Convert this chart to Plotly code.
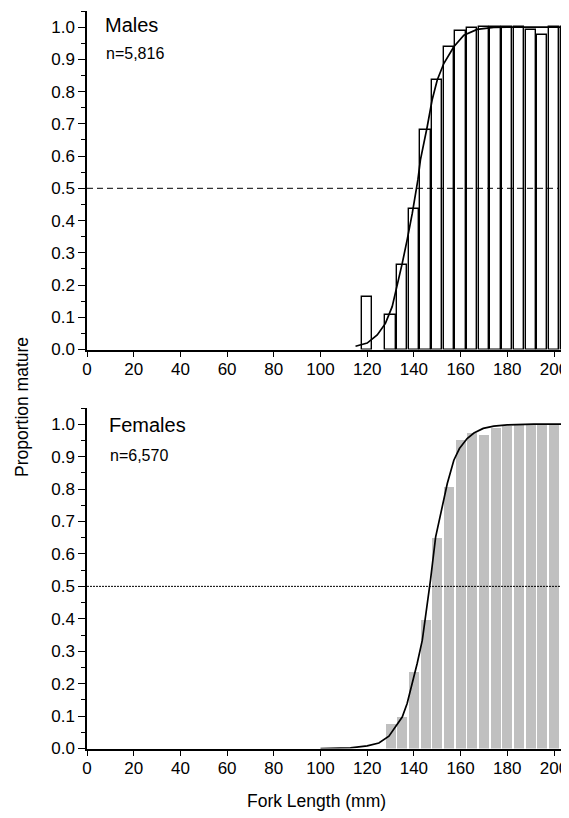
import plotly.graph_objects as go

# ---- data ----
male_bin = [120, 130, 135, 140, 145, 150, 155, 160, 165, 170, 175, 180, 185, 190, 195, 200, 205]
male_prop = [0.162, 0.108, 0.263, 0.435, 0.681, 0.836, 0.937, 0.989, 0.998, 1.0, 1.0, 1.0, 1.0, 0.992, 0.976, 1.0, 1.0]

male_fit_x = [115, 120, 124.3, 127.8, 130.7, 132.8, 135, 137.1, 139.3, 141.7, 142.8, 145.7, 147.8,
              150, 152.8, 157.1, 161.4, 167.1, 174.2, 180, 190, 200, 207]
male_fit_y = [0.01, 0.02, 0.045, 0.081, 0.133, 0.195, 0.267, 0.34, 0.422, 0.526, 0.588, 0.691, 0.774,
              0.836, 0.887, 0.939, 0.975, 0.993, 0.999, 1.0, 1.0, 1.0, 1.0]

female_bin = [130, 135, 140, 145, 150, 155, 160, 165, 170, 175, 180, 185, 190, 195, 200, 205]
female_prop = [0.075, 0.096, 0.236, 0.396, 0.649, 0.805, 0.951, 0.973, 0.966, 0.987, 0.994,
               1.0, 1.0, 1.0, 1.0, 1.0]

female_fit_x = [100, 105.7, 112.8, 120, 125, 129.3, 132.1, 135, 137.1, 139.3, 141.4, 143.6, 145,
                146.4, 147.1, 149.3, 152.1, 154.3, 157.1, 159.5, 162.8, 165.7, 169.7, 174.2, 180,
                191.3, 207]
female_fit_y = [0.0, 0.001, 0.002, 0.008, 0.017, 0.038, 0.067, 0.097, 0.139, 0.2, 0.262, 0.334, 0.406,
                0.488, 0.519, 0.652, 0.745, 0.817, 0.889, 0.925, 0.956, 0.973, 0.987, 0.994, 0.998,
                1.0, 1.0]

male_l50 = 145.4
female_l50 = 151.2

x_ticks = [0, 20, 40, 60, 80, 100, 120, 140, 160, 180, 200]

# ---- figure geometry (page body adds an 8px margin, so coordinates are offset) ----
OFF = 8
W, H = 569 - OFF, 818 - OFF
FONT = "Arial, Liberation Sans, sans-serif"

def px_x(px):
    return (px - OFF) / W

def px_y(px):
    return 1 - (px - OFF) / H

fig = go.Figure()

fig.add_trace(go.Bar(x=male_bin, y=male_prop, width=4.4, xaxis="x", yaxis="y",
                     marker=dict(color="white", line=dict(color="black", width=1.4)),
                     showlegend=False))
fig.add_trace(go.Scatter(x=male_fit_x, y=male_fit_y, mode="lines", xaxis="x", yaxis="y",
                         line=dict(color="black", width=1.7), showlegend=False))
fig.add_trace(go.Scatter(x=[male_l50], y=[-0.013], mode="markers", xaxis="x", yaxis="y",
                         marker=dict(symbol="triangle-up", size=7, color="black"),
                         cliponaxis=False, showlegend=False))

fig.add_trace(go.Bar(x=female_bin, y=female_prop, width=4.3, xaxis="x2", yaxis="y2",
                     marker=dict(color="#c0c0c0", line=dict(width=0)),
                     showlegend=False))
fig.add_trace(go.Scatter(x=female_fit_x, y=female_fit_y, mode="lines", xaxis="x2", yaxis="y2",
                         line=dict(color="black", width=1.7), showlegend=False))
fig.add_trace(go.Scatter(x=[female_l50], y=[-0.013], mode="markers", xaxis="x2", yaxis="y2",
                         marker=dict(symbol="triangle-up", size=7, color="black"),
                         cliponaxis=False, showlegend=False))

xdom = [px_x(87), 1.0]
xrange = [0, (569 - 87) / 2.335]
top_dom = [px_y(349.5), px_y(11)]
bot_dom = [px_y(748.5), px_y(408)]

def xax(anchor):
    return dict(domain=xdom, range=xrange, anchor=anchor, tickvals=x_ticks,
                ticks="outside", ticklen=6, tickwidth=1.2, tickcolor="black",
                showline=True, linecolor="black", linewidth=1.5,
                showgrid=False, zeroline=False, automargin=False,
                ticklabelstandoff=-3,
                tickfont=dict(family=FONT, size=17, color="black"))

def yax(dom, anchor):
    return dict(domain=dom, range=[0, 1.05], anchor=anchor, tick0=0, dtick=0.1,
                tickformat=".1f", ticks="outside", ticklen=7, tickwidth=1.2,
                tickcolor="black", showline=True, linecolor="black", linewidth=1.5,
                showgrid=False, zeroline=False, automargin=False,
                minor=dict(ticks="outside", ticklen=4, tickwidth=1, tickcolor="black",
                           dtick=0.05, tick0=0, showgrid=False),
                tickfont=dict(family=FONT, size=17, color="black"))

fig.update_layout(
    width=W, height=H,
    margin=dict(l=0, r=0, t=0, b=0),
    paper_bgcolor="white", plot_bgcolor="white",
    bargap=0,
    xaxis=xax("y"), yaxis=yax(top_dom, "x"),
    xaxis2=xax("y2"), yaxis2=yax(bot_dom, "x2"),
    shapes=[
        dict(type="line", xref="x", yref="y", x0=0, x1=202, y0=0.5, y1=0.5,
             line=dict(color="black", width=1, dash="6px,4px"), layer="above"),
        dict(type="line", xref="x2", yref="y2", x0=0, x1=xrange[1], y0=0.5, y1=0.5,
             line=dict(color="black", width=1, dash="2px,1px"), layer="above"),
    ],
    annotations=[
        dict(text="Males", xref="paper", yref="paper", x=px_x(103), y=px_y(24.5),
             xanchor="left", yanchor="middle", showarrow=False,
             font=dict(family=FONT, size=20, color="black")),
        dict(text="n=5,816", xref="paper", yref="paper", x=px_x(104), y=px_y(53),
             xanchor="left", yanchor="middle", showarrow=False,
             font=dict(family=FONT, size=16, color="black")),
        dict(text="Females", xref="paper", yref="paper", x=px_x(107), y=px_y(424.5),
             xanchor="left", yanchor="middle", showarrow=False,
             font=dict(family=FONT, size=20, color="black")),
        dict(text="n=6,570", xref="paper", yref="paper", x=px_x(108), y=px_y(455.5),
             xanchor="left", yanchor="middle", showarrow=False,
             font=dict(family=FONT, size=16, color="black")),
        dict(text="Proportion mature", xref="paper", yref="paper", x=px_x(22), y=px_y(407),
             xanchor="center", yanchor="middle", textangle=-90, showarrow=False,
             font=dict(family=FONT, size=17.5, color="black")),
        dict(text="Fork Length (mm)", xref="paper", yref="paper", x=px_x(316), y=px_y(801),
             xanchor="center", yanchor="middle", showarrow=False,
             font=dict(family=FONT, size=17.5, color="black")),
    ],
)

fig.write_html("out.html")
